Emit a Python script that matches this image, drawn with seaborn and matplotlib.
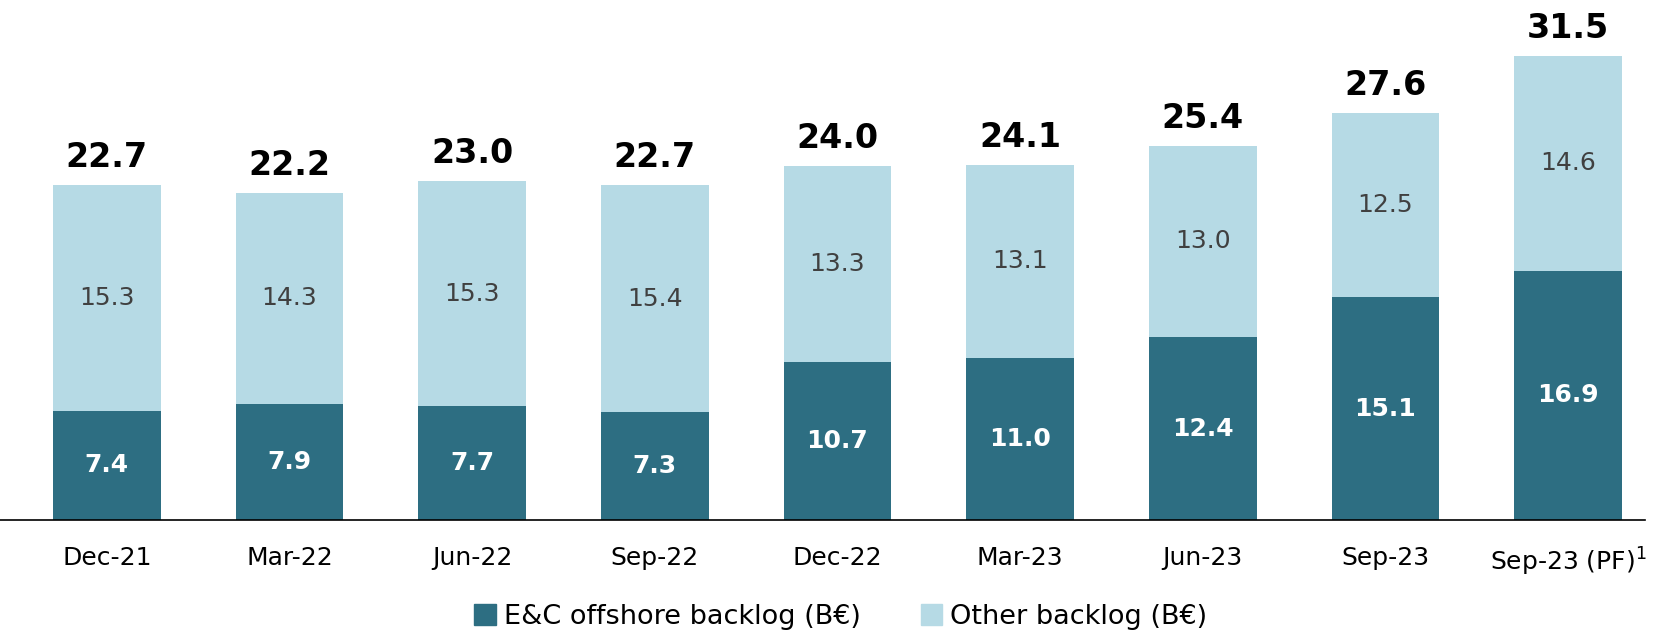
import matplotlib
matplotlib.use("Agg")
import matplotlib.pyplot as plt
from matplotlib.patches import Patch
import pandas as pd
import seaborn as sns

periods = ["Dec-21", "Mar-22", "Jun-22", "Sep-22", "Dec-22", "Mar-23", "Jun-23", "Sep-23", "Sep-23 (PF)$^1$"]
offshore = [7.4, 7.9, 7.7, 7.3, 10.7, 11.0, 12.4, 15.1, 16.9]
other = [15.3, 14.3, 15.3, 15.4, 13.3, 13.1, 13.0, 12.5, 14.6]
totals = [22.7, 22.2, 23.0, 22.7, 24.0, 24.1, 25.4, 27.6, 31.5]

dark = "#2d6e82"
light = "#b6dae5"

df = pd.DataFrame({"period": periods, "offshore": offshore, "other": other, "total": totals})

sns.set_theme(style="white")
plt.rcParams["font.family"] = ["DejaVu Sans"]

fig = plt.figure(figsize=(16.75, 6.34), dpi=100)
ax = fig.add_axes([0.0, 0.18, 0.982, 0.79])

# light bar = full height, dark bar drawn over it from zero
sns.barplot(data=df, x="period", y="total", color=light, width=0.59,
            linewidth=0, saturation=1, ax=ax)
sns.barplot(data=df, x="period", y="offshore", color=dark, width=0.59,
            linewidth=0, saturation=1, ax=ax)

for i, row in df.iterrows():
    ax.text(i, row["offshore"] / 2, f"{row['offshore']:.1f}", ha="center", va="center",
            color="white", fontsize=18, fontweight="bold")
    ax.text(i, row["offshore"] + row["other"] / 2, f"{row['other']:.1f}", ha="center",
            va="center", color="#404040", fontsize=18)
    ax.text(i, row["total"] + 0.75, f"{row['total']:.1f}", ha="center", va="bottom",
            color="black", fontsize=24, fontweight="bold")

ax.set_xlim(-0.585, 8.42)
ax.set_ylim(0, 34)
ax.set_xlabel("")
ax.set_ylabel("")
ax.set_yticks([])
ax.tick_params(axis="x", length=0, pad=19, labelsize=18, colors="black")
for side in ["top", "right", "left"]:
    ax.spines[side].set_visible(False)
ax.spines["bottom"].set_color("black")
ax.spines["bottom"].set_linewidth(1.2)

handles = [Patch(color=dark, label="E&C offshore backlog (B€)"),
           Patch(color=light, label="Other backlog (B€)")]
fig.legend(handles=handles, loc="center", bbox_to_anchor=(0.502, 0.027), ncol=2,
           frameon=False, fontsize=19.5, handlelength=0.8, handleheight=0.8,
           handletextpad=0.3, columnspacing=2.2, labelcolor="black")

fig.savefig("out.png", dpi=100)
